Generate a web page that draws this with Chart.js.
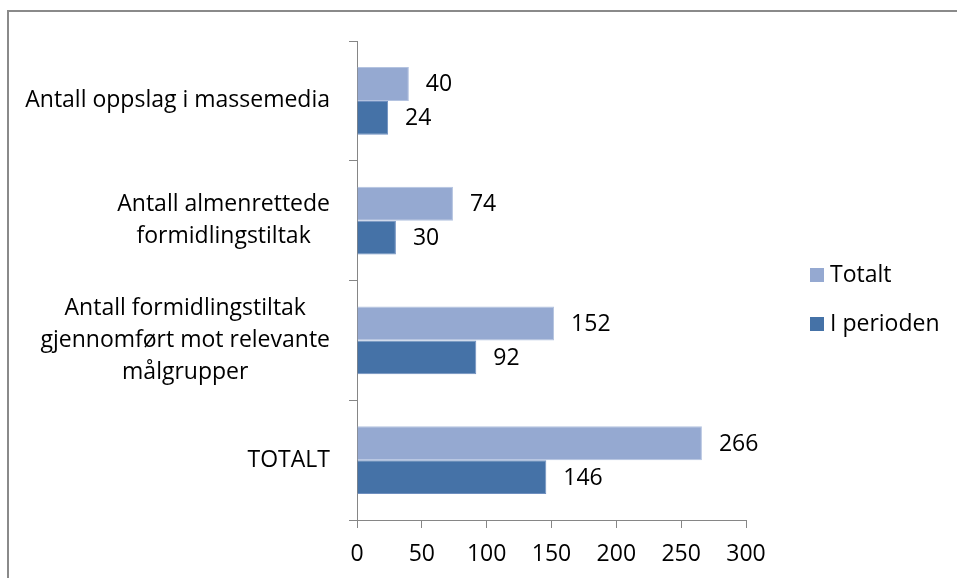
<!DOCTYPE html>
<html>
<head>
<meta charset="utf-8">
<script src="https://cdn.jsdelivr.net/npm/chart.js@4"></script>
<style>
  html, body { margin: 0; padding: 0; background: #fff; }
  #wrap { position: relative; width: 957px; height: 578px; }
  #frame {
    position: absolute; left: 7px; top: 10px; right: 0; bottom: 0;
    border-top: 2px solid #8a8a8a; border-left: 2px solid #8a8a8a;
  }
  canvas { position: absolute; left: 0; top: 0; }
</style>
</head>
<body>
<div id="wrap">
  <div id="frame"></div>
  <canvas id="chart" width="957" height="578"></canvas>
</div>
<script>
const categories = [
  ["Antall oppslag i massemedia"],
  ["Antall almenrettede", "formidlingstiltak"],
  ["Antall formidlingstiltak", "gjennomført mot relevante", "målgrupper"],
  ["TOTALT"],
];
const seriesNames = ["Totalt", "I perioden"];
const totaltValues = [40, 74, 152, 266];
const periodValues = [24, 30, 92, 146];
const xTicks = [0, 50, 100, 150, 200, 250, 300];

const FONT = "'Open Sans', sans-serif";
const FONT_SIZE = 23;
const colors = ["#95a9d1", "#4572a7"];

// category labels: block right-aligned, lines centred within block
const categoryLabels = {
  id: "categoryLabels",
  afterDraw(chart) {
    const { ctx, scales } = chart;
    const y = scales.y;
    const right = y.right - 27;
    const lh = 32;
    ctx.save();
    ctx.font = `${FONT_SIZE}px ${FONT}`;
    ctx.fillStyle = "#000";
    ctx.textAlign = "center";
    ctx.textBaseline = "middle";
    categories.forEach((lines, i) => {
      const widest = Math.max(...lines.map((l) => ctx.measureText(l).width));
      const cx = right - widest / 2;
      const cy = y.getPixelForTick(i);
      lines.forEach((line, j) => {
        ctx.fillText(line, cx, cy + (j - (lines.length - 1) / 2) * lh);
      });
    });
    ctx.restore();
  },
};

const valueLabels = {
  id: "valueLabels",
  afterDatasetsDraw(chart) {
    const { ctx } = chart;
    ctx.save();
    ctx.font = `${FONT_SIZE}px ${FONT}`;
    ctx.fillStyle = "#000";
    ctx.textAlign = "left";
    ctx.textBaseline = "middle";
    chart.data.datasets.forEach((ds, di) => {
      chart.getDatasetMeta(di).data.forEach((bar, i) => {
        ctx.fillText(ds.data[i], bar.x + 17, bar.y + 1);
      });
    });
    ctx.restore();
  },
};

const sideLegend = {
  id: "sideLegend",
  afterDraw(chart) {
    const { ctx } = chart;
    const x = 810;
    const ys = [275, 324];
    ctx.save();
    ctx.font = `${FONT_SIZE}px ${FONT}`;
    ctx.textBaseline = "middle";
    ctx.textAlign = "left";
    chart.data.datasets.forEach((ds, i) => {
      ctx.fillStyle = ds.backgroundColor;
      ctx.fillRect(x, ys[i] - 7, 14, 14);
      ctx.fillStyle = "#000";
      ctx.fillText(ds.label, x + 20, ys[i]);
    });
    ctx.restore();
  },
};

const chartConfig = {
  type: "bar",
  data: {
    labels: categories.map((c) => c.join(" ")),
    datasets: [
      {
        label: seriesNames[0],
        data: totaltValues,
        backgroundColor: colors[0],
        borderColor: "#b4c3e0",
        borderWidth: 1,
      },
      {
        label: seriesNames[1],
        data: periodValues,
        backgroundColor: colors[1],
        borderColor: "#6f8fbf",
        borderWidth: 1,
      },
    ],
  },
  options: {
    indexAxis: "y",
    responsive: false,
    animation: false,
    layout: { padding: { top: 41, right: 211, left: 0, bottom: 0 } },
    datasets: { bar: { categoryPercentage: 0.567, barPercentage: 1 } },
    scales: {
      x: {
        min: 0,
        max: 300,
        afterBuildTicks(scale) {
          scale.ticks = xTicks.map((v) => ({ value: v }));
        },
        afterFit(scale) {
          scale.height = 58;
        },
        grid: {
          drawOnChartArea: false,
          tickLength: 8,
          color: "#868686",
        },
        border: { color: "#868686", width: 1 },
        ticks: {
          font: { family: FONT, size: FONT_SIZE },
          color: "#000",
          padding: 13,
        },
      },
      y: {
        afterFit(scale) {
          scale.width = 357;
        },
        grid: {
          drawOnChartArea: false,
          tickLength: 8,
          color: "#868686",
        },
        border: { color: "#868686", width: 1 },
        ticks: { display: false },
      },
    },
    plugins: {
      legend: { display: false },
      tooltip: { enabled: false },
    },
  },
  plugins: [categoryLabels, valueLabels, sideLegend],
};

window.addEventListener("DOMContentLoaded", () => {
  new Chart(document.getElementById("chart"), chartConfig);
});
</script>
</body>
</html>
